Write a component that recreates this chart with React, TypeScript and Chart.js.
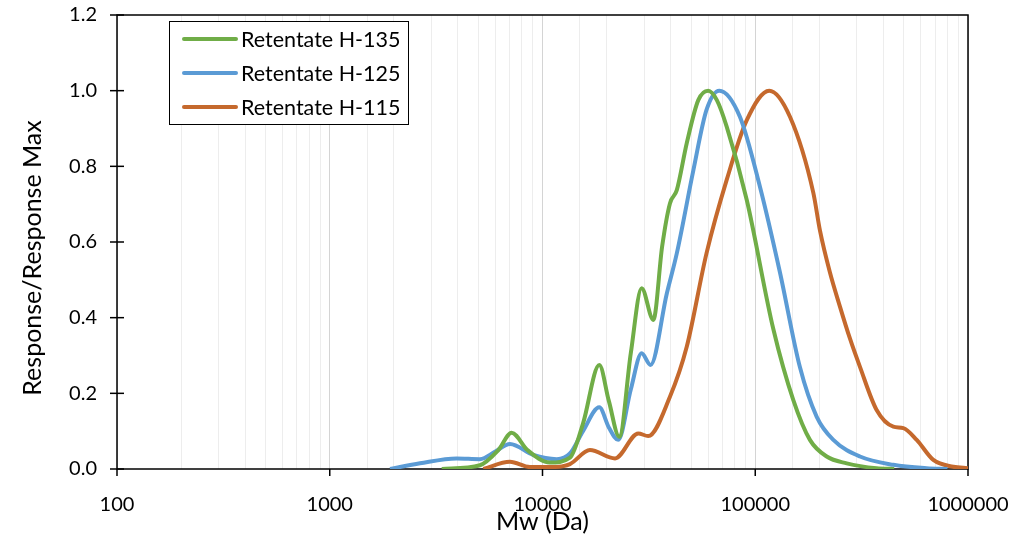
import React, { useEffect, useRef } from "react";
import { Chart, registerables } from "chart.js";

Chart.register(...registerables);

// ---- Data ----
const seriesNames = ["Retentate H-135", "Retentate H-125", "Retentate H-115"];
const seriesColors = ["#70AD47", "#5B9BD5", "#C5692D"];

const h135Mw = [3360, 5080, 6200, 7160, 8500, 10840, 13460, 15500, 18490, 20500, 22960, 26000, 29240, 33190, 36500, 39720, 42780, 47640, 53980, 60100, 66000, 73410, 91230, 121600, 151000, 180700, 216700, 269000, 372000, 450000];
const h135Resp = [0, 0.01, 0.05, 0.096, 0.05, 0.017, 0.03, 0.12, 0.275, 0.18, 0.085, 0.306, 0.478, 0.394, 0.588, 0.702, 0.737, 0.861, 0.975, 1.0, 0.975, 0.905, 0.711, 0.37, 0.182, 0.077, 0.033, 0.015, 0.002, 0.0];

const h125Mw = [1920, 2655, 3950, 5080, 6000, 7030, 9060, 11670, 13460, 15500, 18490, 20500, 22700, 26000, 29240, 32200, 38400, 42780, 51200, 59000, 67800, 84700, 105200, 130600, 162000, 194500, 232800, 310600, 445600, 639000, 800000];
const h125Resp = [0, 0.015, 0.028, 0.026, 0.046, 0.066, 0.037, 0.026, 0.041, 0.1, 0.163, 0.11, 0.077, 0.21, 0.306, 0.275, 0.464, 0.57, 0.79, 0.949, 1.0, 0.931, 0.746, 0.52, 0.27, 0.138, 0.077, 0.033, 0.011, 0.002, 0.0];

const h115Mw = [5270, 7030, 8730, 11000, 13460, 16700, 21930, 28190, 31400, 39720, 47640, 59000, 73410, 91230, 116400, 145600, 187500, 201500, 224300, 249900, 278600, 310600, 372000, 445600, 496500, 574000, 687000, 853000, 1000000];
const h115Resp = [0, 0.019, 0.005, 0.005, 0.013, 0.05, 0.028, 0.094, 0.087, 0.191, 0.323, 0.57, 0.764, 0.922, 1.0, 0.931, 0.73, 0.63, 0.52, 0.43, 0.345, 0.27, 0.156, 0.112, 0.108, 0.077, 0.024, 0.006, 0.002];

const xMin = 100;
const xMax = 1000000;
const yMin = 0;
const yMax = 1.2;
const yStep = 0.2;
const xTitle = "Mw (Da)";
const yTitle = "Response/Response Max";

const FONT = "Lato";

const isDecade = (v: number) => {
  const l = Math.log10(v);
  return Math.abs(l - Math.round(l)) < 1e-6;
};

const framePlugin = {
  id: "frame",
  beforeDatasetsDraw(chart: any) {
    const { ctx, chartArea } = chart;
    const { left, right, top, bottom } = chartArea;
    const xs = chart.scales.x;
    const ys = chart.scales.y;
    ctx.save();
    ctx.strokeStyle = "#000";
    ctx.lineWidth = 1.5;
    ctx.strokeRect(left, top, right - left, bottom - top);
    ys.ticks.forEach((t: any) => {
      const py = ys.getPixelForValue(t.value);
      ctx.beginPath();
      ctx.moveTo(left - 7, py);
      ctx.lineTo(left + 7, py);
      ctx.stroke();
    });
    xs.ticks.forEach((t: any) => {
      if (!isDecade(t.value)) return;
      const px = xs.getPixelForValue(t.value);
      ctx.beginPath();
      ctx.moveTo(px, bottom);
      ctx.lineTo(px, bottom + 7);
      ctx.stroke();
    });
    // y-axis title (drawn here to match the reference's slightly lowered placement)
    ctx.translate(33, (top + bottom) / 2 + 16);
    ctx.rotate(-Math.PI / 2);
    ctx.fillStyle = "#000";
    ctx.font = `25px ${FONT}`;
    ctx.textAlign = "center";
    ctx.textBaseline = "middle";
    ctx.fillText(yTitle, 0, 0);
    ctx.restore();
  },
};

const legendPlugin = {
  id: "boxLegend",
  afterDraw(chart: any) {
    const { ctx, chartArea } = chart;
    const bx = chartArea.left + 52;
    const by = chartArea.top + 6;
    const bw = 239;
    const bh = 103;
    ctx.save();
    ctx.fillStyle = "#fff";
    ctx.fillRect(bx, by, bw, bh);
    ctx.strokeStyle = "#000";
    ctx.lineWidth = 1;
    ctx.strokeRect(bx + 0.5, by + 0.5, bw, bh);
    chart.data.datasets.forEach((ds: any, i: number) => {
      const cy = by + 18 + i * 34;
      ctx.strokeStyle = ds.borderColor;
      ctx.lineWidth = 4;
      ctx.lineCap = "round";
      ctx.beginPath();
      ctx.moveTo(bx + 15, cy);
      ctx.lineTo(bx + 67, cy);
      ctx.stroke();
      ctx.fillStyle = "#000";
      ctx.font = `21.5px ${FONT}`;
      ctx.textBaseline = "middle";
      ctx.textAlign = "left";
      ctx.fillText(ds.label, bx + 72, cy + 1);
    });
    ctx.restore();
  },
};

const toPoints = (xs: number[], ys: number[]) => xs.map((x, i) => ({ x, y: ys[i] }));

export default function App() {
  const ref = useRef<HTMLCanvasElement | null>(null);

  useEffect(() => {
    if (!ref.current) return;
    const mws = [h135Mw, h125Mw, h115Mw];
    const resps = [h135Resp, h125Resp, h115Resp];
    const chart = new Chart(ref.current, {
      type: "scatter",
      data: {
        datasets: seriesNames.map((name, i) => ({
          label: name,
          data: toPoints(mws[i], resps[i]),
          showLine: true,
          borderColor: seriesColors[i],
          backgroundColor: seriesColors[i],
          borderWidth: 4,
          pointRadius: 0,
          pointHoverRadius: 0,
          cubicInterpolationMode: "monotone",
          fill: false,
        })),
      },
      options: {
        responsive: false,
        animation: false,
        events: [],
        layout: { padding: { top: 15, right: 67, left: 0, bottom: 0 } },
        plugins: {
          legend: { display: false },
          tooltip: { enabled: false },
        },
        scales: {
          x: {
            type: "logarithmic",
            min: xMin,
            max: xMax,
            afterFit: (s: any) => {
              s.height = 68;
              s.paddingLeft = 0;
              s.paddingRight = 0;
            },
            border: { display: false },
            grid: {
              drawTicks: false,
              lineWidth: 1,
              color: (c: any) =>
                c.tick && isDecade(c.tick.value) ? "#d4d4d4" : "#ededed",
            },
            ticks: {
              autoSkip: false,
              maxRotation: 0,
              padding: 24,
              color: "#000",
              font: { family: FONT, size: 20 },
              callback: (v: any) => (isDecade(Number(v)) ? String(Math.round(Number(v))) : ""),
            },
            title: {
              display: true,
              text: xTitle,
              color: "#000",
              font: { family: FONT, size: 25 },
              padding: { top: 0, bottom: 0 },
            },
          },
          y: {
            min: yMin,
            max: yMax,
            afterFit: (s: any) => {
              s.width = 117;
              s.paddingTop = 0;
              s.paddingBottom = 0;
            },
            border: { display: false },
            grid: { display: false, drawTicks: false },
            ticks: {
              stepSize: yStep,
              padding: 20,
              color: "#000",
              font: { family: FONT, size: 20 },
              callback: (v: any) => Number(v).toFixed(1),
            },
            title: { display: false, text: yTitle },
          },
        },
      },
      plugins: [framePlugin, legendPlugin],
    } as any);
    return () => chart.destroy();
  }, []);

  return (
    <div style={{ position: "fixed", left: 0, top: 0, width: 1035, height: 537, background: "#fff" }}>
      <canvas ref={ref} width={1035} height={537} />
    </div>
  );
}
